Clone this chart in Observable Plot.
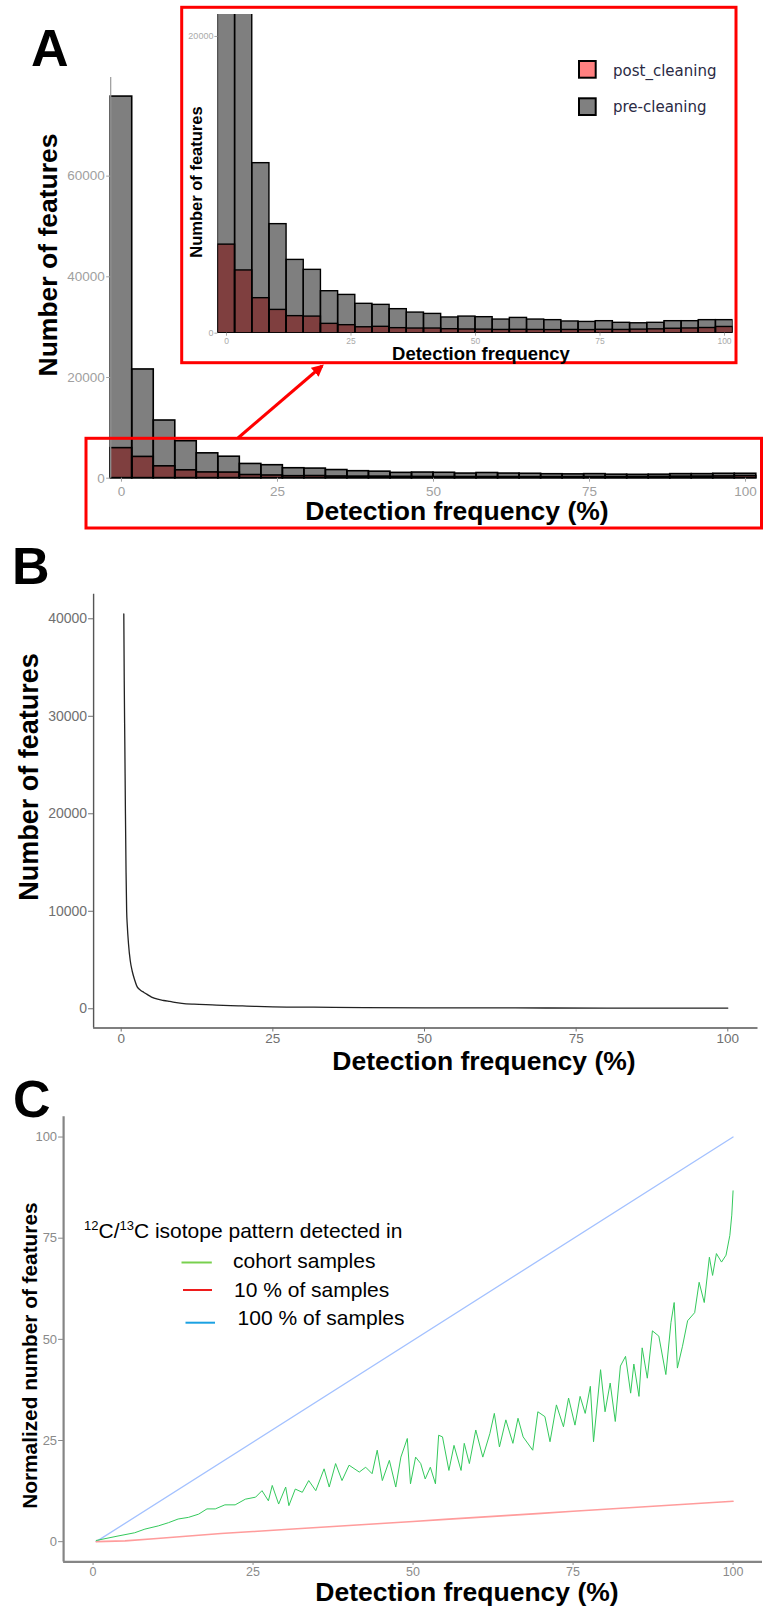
<!DOCTYPE html>
<html><head><meta charset="utf-8">
<script src="https://cdn.jsdelivr.net/npm/d3@7"></script>
<script src="https://cdn.jsdelivr.net/npm/@observablehq/plot@0.6"></script>
<style>
body{margin:0;background:#fff;}
#root{position:relative;width:763px;height:1607px;background:#fff;overflow:hidden;}
#root > svg, #root > div{position:absolute;left:0;}
</style></head><body>
<div id="root"></div>
<script>
// ---------- Panel A: histogram of detection frequency (30 bins) ----------
const aBinCenters = [0, 3.45, 6.90, 10.34, 13.79, 17.24, 20.69, 24.14, 27.59, 31.03, 34.48, 37.93, 41.38, 44.83, 48.28, 51.72, 55.17, 58.62, 62.07, 65.52, 68.97, 72.41, 75.86, 79.31, 82.76, 86.21, 89.66, 93.10, 96.55, 100];
const aBinWidth = 3.448;
const aPre  = [75800, 21600, 11460, 7350, 4940, 4270, 2830, 2580, 1980, 1910, 1620, 1390, 1300, 1060, 1120, 1080, 920, 1030, 920, 880, 790, 760, 810, 700, 670, 700, 810, 810, 880, 880];
const aPost = [5970, 4230, 2360, 1570, 1150, 1120, 630, 540, 400, 430, 340, 315, 315, 270, 250, 240, 220, 230, 220, 210, 220, 210, 230, 220, 240, 260, 300, 320, 350, 420];
const aSeries = ["post_cleaning", "pre-cleaning"];
const aYTicks = [0, 20000, 40000, 60000];
const aInsetYTicks = [0, 20000];
const xTicks = [0, 25, 50, 75, 100];
const aDomainX = [-1.724, 101.724];
const aDomainY = [0, 79590];
const aInsetDomainY = [0, 21480];

// ---------- Panel B: features vs detection frequency ----------
const bX = [0.43, 0.5, 0.6, 0.7, 0.8, 0.9, 1.0, 1.2, 1.5, 1.8, 2.2, 2.6, 2.9, 3.3, 3.7, 4.2, 5.0, 6.0, 7.0, 8.0, 10.0, 12.0, 15.0, 18.0, 20.0, 22.0, 25.0, 30.0, 35.0, 40.0, 50.0, 60.0, 70.0, 80.0, 90.0, 100.0];
const bY = [40500, 33700, 27000, 20000, 14000, 10000, 8600, 6700, 4900, 3900, 3000, 2300, 2050, 1850, 1700, 1500, 1200, 980, 850, 750, 560, 470, 400, 330, 290, 250, 200, 170, 140, 120, 100, 90, 80, 75, 70, 70];
const bYTicks = [0, 10000, 20000, 30000, 40000];
const bDomainX = [-4.55, 104.98];
const bDomainY = [-1972, 42522];

// ---------- Panel C: normalized number of features ----------
const cSeries = ["cohort samples", "10 % of samples", "100 % of samples"];
const cCohortX = [0.5,3.9,6.5,8.1,10.2,11.8,13.3,14.9,16.5,17.8,19.1,20.6,22.2,23.8,25.4,26.4,27.4,28.0,29.0,30.1,30.6,31.6,32.7,33.7,34.8,36.1,36.9,37.9,38.9,40.0,41.6,42.6,43.6,44.4,45.2,46.3,47.3,48.1,49.1,49.6,50.4,51.2,51.9,52.7,53.5,54.0,54.6,55.6,56.4,57.5,58.0,58.8,59.8,60.9,62.0,62.7,63.5,64.5,65.6,66.4,67.2,68.7,69.5,70.6,71.4,72.4,73.5,74.3,75.3,76.1,76.9,77.7,78.2,79.3,80.0,80.8,81.6,82.4,83.2,84.0,84.5,85.3,85.8,86.6,87.4,88.4,89.5,90.3,90.8,91.3,92.1,92.9,94.0,94.7,95.5,96.3,96.8,97.4,98.2,98.9,99.5,99.8,100];
const cCohortY = [0.3,1.4,2.2,3.1,3.9,4.7,5.6,6.0,6.8,8.1,8.1,9.1,9.1,10.5,11.0,12.6,10.1,13.9,9.3,13.5,8.9,13.0,12.2,15.1,12.6,18.0,13.5,19.3,15.1,18.9,17.2,18.4,16.8,22.6,15.1,20.1,13.5,20.9,25.5,14.3,20.9,19.3,15.5,18.4,14.3,26.3,25.9,17.6,23.8,17.6,24.3,19.3,27.6,20.9,26.7,31.7,23.4,30.1,24.3,30.5,25.9,22.6,32.1,30.9,24.7,33.8,28.4,35.5,28.8,35.9,31.7,38.4,24.7,42.5,32.1,39.2,29.7,43.4,45.8,36.7,43.9,35.9,47.9,40.4,52.1,50.8,41.3,54.2,59.1,42.9,48.3,54.6,56.6,64.1,59.1,70.3,65.8,71.2,69.1,70.8,75.7,80.7,86.7];
const cTenX = [0.5, 5, 10, 15, 20, 25, 30, 35, 40, 45, 50, 55, 60, 65, 70, 75, 80, 85, 90, 95, 100];
const cTenY = [0, 0.2, 0.8, 1.4, 2.0, 2.5, 3.0, 3.5, 4.0, 4.5, 5.0, 5.5, 6.0, 6.5, 7.0, 7.5, 8.0, 8.5, 9.0, 9.5, 10.0];
const cAllX = [0.5, 100];
const cAllY = [0, 100];
const cYTicks = [0, 25, 50, 75, 100];
const cDomainX = [-4.6, 104.6];
const cDomainY = [-5, 105];

const FONT = "'Liberation Sans', Arial, Helvetica, sans-serif";
const root = document.getElementById("root");

const aRows = aBinCenters.map((x, i) => ({x, pre: aPre[i], post: aPost[i]}));
const x1 = d => d.x - aBinWidth / 2, x2 = d => d.x + aBinWidth / 2;

function place(el, top) { el.style.position = "absolute"; el.style.top = top + "px"; el.style.left = "0px"; root.appendChild(el); }

// Panel A main
const aMain = Plot.plot({
  width: 763, height: 540,
  marginTop: 77, marginBottom: 62.3, marginLeft: 110.2, marginRight: 7.2,
  x: {domain: aDomainX}, y: {domain: aDomainY},
  style: {fontFamily: FONT, background: "transparent", overflow: "visible"},
  marks: [
    Plot.rectY(aRows, {x1, x2, y: "post", fill: "#ff0000", fillOpacity: 0.5, stroke: "#000", strokeWidth: 1.6}),
    Plot.rectY(aRows, {x1, x2, y: "pre", fill: "#000", fillOpacity: 0.5, stroke: "#000", strokeWidth: 1.6}),
    Plot.ruleX([aDomainX[0]], {stroke: "#9a9a9a", strokeWidth: 1.2}),
    Plot.axisY({ticks: aYTicks, tickFormat: d => String(d), tickSize: 4, tickPadding: 2, fontSize: 13.5, color: "#a0a0a0", label: null}),
    Plot.axisX({ticks: xTicks, tickFormat: d => String(d), tickSize: 4, tickPadding: 4, fontSize: 13.5, color: "#a0a0a0", label: null})
  ]
});
place(aMain, 0);

// Panel A inset
const aInset = Plot.plot({
  width: 763, height: 370,
  marginTop: 14, marginBottom: 37.3, marginLeft: 217.4, marginRight: 30.4,
  x: {domain: aDomainX}, y: {domain: aInsetDomainY},
  style: {fontFamily: FONT, background: "transparent", overflow: "visible"},
  marks: [
    Plot.rectY(aRows, {x1, x2, y: "post", fill: "#ff0000", fillOpacity: 0.5, stroke: "#000", strokeWidth: 1.4, clip: true}),
    Plot.rectY(aRows, {x1, x2, y: "pre", fill: "#000", fillOpacity: 0.5, stroke: "#000", strokeWidth: 1.4, clip: true}),
    Plot.axisY({ticks: aInsetYTicks, tickFormat: d => String(d), tickSize: 3, tickPadding: 1.5, fontSize: 9, color: "#aaaaaa", label: null}),
    Plot.axisX({ticks: xTicks, tickFormat: d => String(d), tickSize: 3, tickPadding: 1.5, fontSize: 8.5, color: "#aaaaaa", label: null})
  ]
});
place(aInset, 0);

// Panel B
const bPlot = Plot.plot({
  width: 763, height: 540,
  marginTop: 53.7, marginBottom: 52.5, marginLeft: 93.1, marginRight: 5.5,
  x: {domain: bDomainX}, y: {domain: bDomainY},
  style: {fontFamily: FONT, background: "transparent", overflow: "visible"},
  marks: [
    Plot.ruleX([bDomainX[0]], {stroke: "#555", strokeWidth: 1.4}),
    Plot.ruleY([bDomainY[0]], {stroke: "#555", strokeWidth: 1.4}),
    Plot.line(bY, {x: bX, y: bY, stroke: "#222", strokeWidth: 1.3, curve: "monotone-x"}),
    Plot.axisY({ticks: bYTicks, tickFormat: d => String(d), tickSize: 5, tickPadding: 1.5, fontSize: 14, color: "#707070", label: null}),
    Plot.axisX({ticks: xTicks, tickFormat: d => String(d), tickSize: 4, tickPadding: 1.5, fontSize: 13.5, color: "#707070", label: null})
  ]
});
place(bPlot, 540);

// Panel C
const cPlot = Plot.plot({
  width: 763, height: 527,
  marginTop: 36.3, marginBottom: 45.6, marginLeft: 63.1, marginRight: 1,
  x: {domain: cDomainX}, y: {domain: cDomainY},
  style: {fontFamily: FONT, background: "transparent", overflow: "visible"},
  marks: [
    Plot.ruleX([cDomainX[0]], {stroke: "#858585", strokeWidth: 2.2}),
    Plot.ruleY([cDomainY[0]], {stroke: "#858585", strokeWidth: 2.2}),
    Plot.line(cAllY, {x: cAllX, y: cAllY, stroke: "#a3c1ff", strokeWidth: 1.3}),
    Plot.line(cTenY, {x: cTenX, y: cTenY, stroke: "#ff9c9c", strokeWidth: 1.6}),
    Plot.line(cCohortY, {x: cCohortX, y: cCohortY, stroke: "#34c95c", strokeWidth: 1}),
    Plot.axisY({ticks: cYTicks, tickFormat: d => String(d), tickSize: 5, tickPadding: 1.5, fontSize: 13, color: "#8a8a8a", label: null}),
    Plot.axisX({ticks: xTicks, tickFormat: d => String(d), tickSize: 3.5, tickPadding: 1.5, fontSize: 12.5, color: "#8a8a8a", label: null})
  ]
});
place(cPlot, 1080);

// ---------- Overlay: titles, panel letters, legends, annotations ----------
const ns = "http://www.w3.org/2000/svg";
const ov = document.createElementNS(ns, "svg");
ov.setAttribute("width", 763); ov.setAttribute("height", 1607);
ov.style.position = "absolute"; ov.style.top = "0px"; ov.style.left = "0px";
ov.setAttribute("font-family", FONT);
ov.innerHTML = `
<defs><marker id="ah" viewBox="0 0 10 10" refX="8" refY="5" markerWidth="4" markerHeight="4" orient="auto-start-reverse"><path d="M0,0 L10,5 L0,10 z" fill="#ff0000"/></marker></defs>
<text x="31" y="66" font-size="52" font-weight="bold">A</text>
<text transform="translate(57,255) rotate(-90)" text-anchor="middle" font-size="26.5" font-weight="bold">Number of features</text>
<text x="457" y="520" text-anchor="middle" font-size="26.5" font-weight="bold">Detection frequency (%)</text>
<rect x="181.7" y="7.3" width="554.3" height="355.4" fill="none" stroke="#ff0000" stroke-width="3"/>
<rect x="86" y="438.3" width="675.5" height="89.7" fill="none" stroke="#ff0000" stroke-width="3"/>
<line x1="238" y1="438" x2="322" y2="366" stroke="#ff0000" stroke-width="3" marker-end="url(#ah)"/>
<text transform="translate(202,182) rotate(-90)" text-anchor="middle" font-size="16.5" font-weight="bold">Number of features</text>
<text x="481" y="359.5" text-anchor="middle" font-size="18.5" font-weight="bold">Detection frequency</text>
<rect x="579" y="61" width="16.7" height="16.7" fill="#ff8080" stroke="#000" stroke-width="2"/>
<rect x="579" y="98.3" width="16.7" height="16.7" fill="#808080" stroke="#000" stroke-width="2"/>
<text x="613" y="75.5" font-size="15" font-family="'DejaVu Sans', Verdana, sans-serif" fill="#2a2a44">${aSeries[0]}</text>
<text x="613" y="112" font-size="15" font-family="'DejaVu Sans', Verdana, sans-serif" fill="#2a2a44">${aSeries[1]}</text>
<text x="12" y="584" font-size="52" font-weight="bold">B</text>
<text transform="translate(38.3,777) rotate(-90)" text-anchor="middle" font-size="27" font-weight="bold">Number of features</text>
<text x="484" y="1070" text-anchor="middle" font-size="26.5" font-weight="bold">Detection frequency (%)</text>
<text x="13" y="1117" font-size="52" font-weight="bold">C</text>
<text transform="translate(37,1355.6) rotate(-90)" text-anchor="middle" font-size="20.8" font-weight="bold">Normalized number of features</text>
<text x="467" y="1600.5" text-anchor="middle" font-size="26.5" font-weight="bold">Detection frequency (%)</text>
<text x="84" y="1238" font-size="21"><tspan font-size="13" dy="-8">12</tspan><tspan dy="8">C/</tspan><tspan font-size="13" dy="-8">13</tspan><tspan dy="8">C isotope pattern detected in</tspan></text>
<line x1="181.5" y1="1262.5" x2="211.8" y2="1262.5" stroke="#78d04e" stroke-width="2"/>
<line x1="183" y1="1290" x2="212" y2="1290" stroke="#ee1c1c" stroke-width="2"/>
<line x1="185.5" y1="1322.7" x2="215" y2="1322.7" stroke="#1ba1e2" stroke-width="2"/>
<text x="233" y="1268" font-size="21">${cSeries[0]}</text>
<text x="234" y="1297" font-size="21">${cSeries[1]}</text>
<text x="237.6" y="1325.4" font-size="21">${cSeries[2]}</text>
`;
root.appendChild(ov);
</script>
</body></html>
